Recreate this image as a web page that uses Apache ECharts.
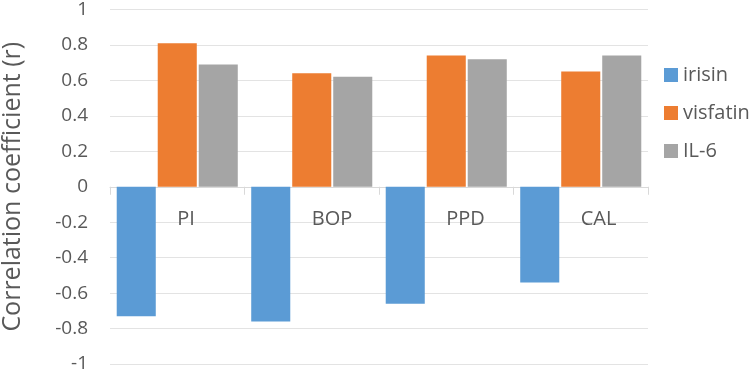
<!DOCTYPE html>
<html>
<head>
<meta charset="utf-8">
<script src="https://cdn.jsdelivr.net/npm/echarts@6/dist/echarts.min.js"></script>
<style>
  html, body { margin: 0; padding: 0; background: #fff; }
  #chart { width: 756px; height: 373px; }
</style>
</head>
<body>
<div id="chart"></div>
<script>
var categories = ['PI', 'BOP', 'PPD', 'CAL']
var irisin = [-0.73, -0.76, -0.66, -0.54]
var visfatin = [0.81, 0.64, 0.74, 0.65]
var il6 = [0.69, 0.62, 0.72, 0.74]
var seriesNames = ['irisin', 'visfatin', 'IL-6']

var font = 'Open Sans'
var gridTop = 9.5
var gridBottom = 9
var plotHeight = 373 - gridTop - gridBottom

var chart = echarts.init(document.getElementById('chart'))

chart.setOption({
  animation: false,
  color: ['#5B9BD5', '#ED7D31', '#A5A5A5'],
  textStyle: { fontFamily: font },
  grid: {
    left: 110,
    right: 108,
    top: gridTop,
    bottom: gridBottom,
    outerBoundsMode: 'none'
  },
  legend: {
    data: seriesNames,
    orient: 'vertical',
    left: 659,
    top: 60,
    itemWidth: 14,
    itemHeight: 14,
    itemGap: 18,
    icon: 'rect',
    textStyle: {
      fontFamily: font,
      fontSize: 20,
      color: '#595959'
    }
  },
  xAxis: {
    type: 'category',
    data: categories,
    // put the axis (line + labels) on the zero line by hand
    offset: -plotHeight / 2,
    axisLine: { onZero: false, lineStyle: { color: '#d9d9d9', width: 1 } },
    axisTick: { show: true, length: 8, lineStyle: { color: '#d9d9d9' } },
    axisLabel: {
      fontFamily: font,
      fontSize: 20,
      color: '#595959',
      margin: 23,
      align: 'left'
    }
  },
  yAxis: {
    type: 'value',
    min: -1,
    max: 1,
    interval: 0.2,
    name: 'Correlation coefficient (r)',
    nameLocation: 'middle',
    nameGap: 85,
    nameTextStyle: {
      fontFamily: font,
      fontSize: 25,
      color: '#595959'
    },
    axisLine: { show: false },
    axisTick: { show: false },
    axisLabel: {
      fontFamily: font,
      fontSize: 19,
      color: '#595959',
      margin: 22
    },
    splitLine: { lineStyle: { color: '#e3e3e3', width: 1 } }
  },
  series: [
    {
      name: 'irisin',
      type: 'bar',
      data: irisin,
      barGap: '5%',
      barCategoryGap: '10%'
    },
    {
      name: 'visfatin',
      type: 'bar',
      data: visfatin
    },
    {
      name: 'IL-6',
      type: 'bar',
      data: il6
    }
  ]
})
</script>
</body>
</html>
